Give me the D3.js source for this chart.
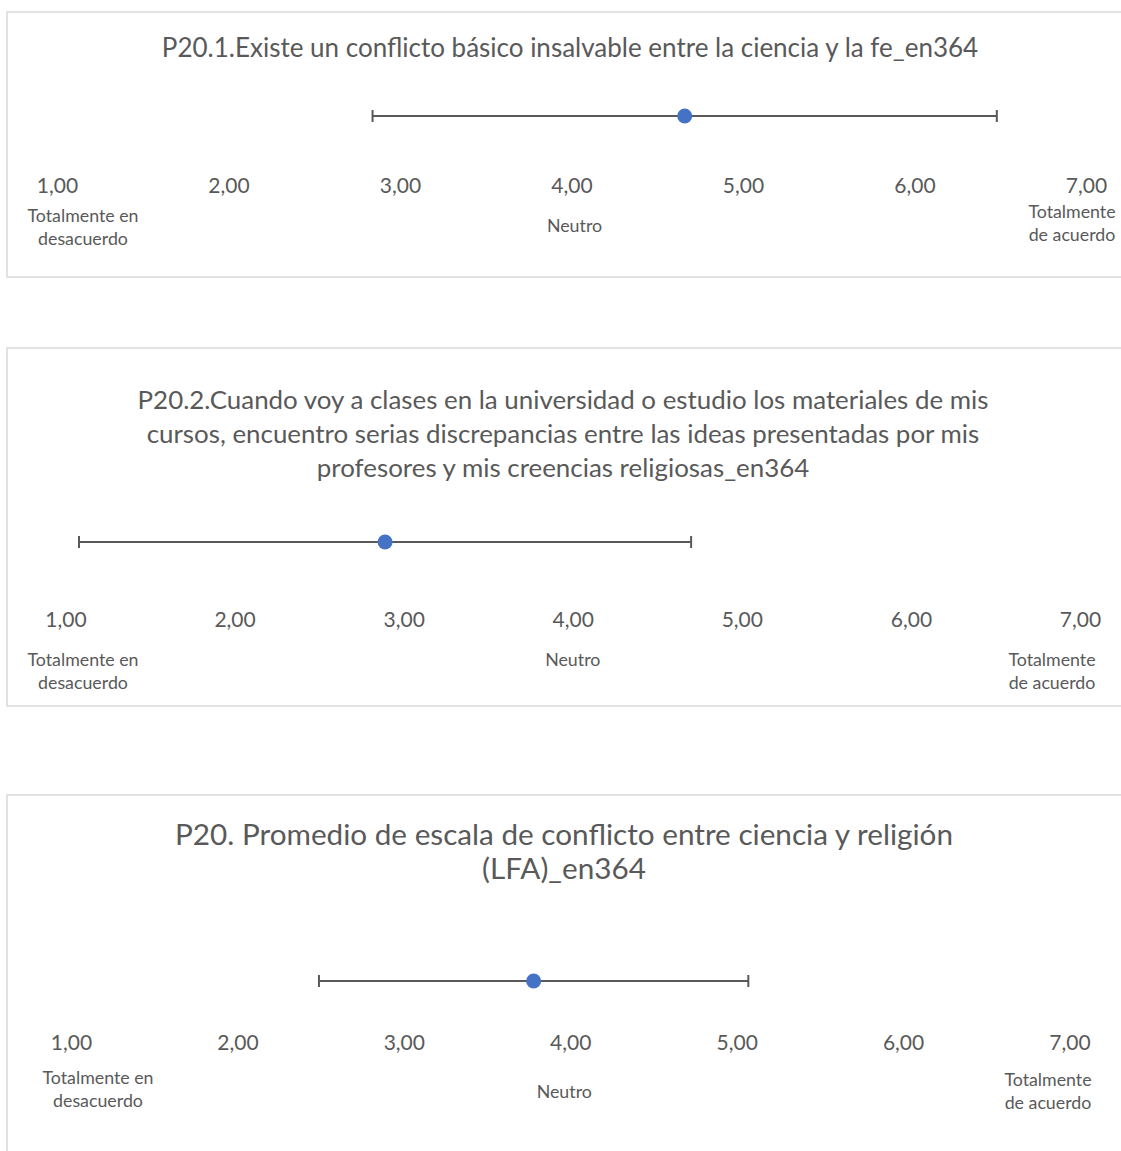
<!DOCTYPE html>
<html>
<head>
<meta charset="utf-8">
<script src="https://cdn.jsdelivr.net/npm/d3@7"></script>
<style>
  body{ margin:0; background:#fff; }
  svg{ display:block; font-family:Lato, 'Open Sans', sans-serif; }
</style>
</head>
<body>
<svg id="chart"></svg>
<script>
// values
const titles = [
  ['P20.1.Existe un conflicto básico insalvable entre la ciencia y la fe_en364'],
  ['P20.2.Cuando voy a clases en la universidad o estudio los materiales de mis',
   'cursos, encuentro serias discrepancias entre las ideas presentadas por mis',
   'profesores y mis creencias religiosas_en364'],
  ['P20. Promedio de escala de conflicto entre ciencia y religión',
   '(LFA)_en364']
];
const means = [4.66, 2.89, 3.78];
const sds = [1.82, 1.81, 1.29];
const tickValues = [1, 2, 3, 4, 5, 6, 7];
const anchorValues = [1, 4, 7];
const anchorLabels = [['Totalmente en', 'desacuerdo'], ['Neutro'], ['Totalmente', 'de acuerdo']];

const esFormat = d3.formatLocale({decimal: ',', thousands: '.', grouping: [3], currency: ['', '€']}).format('.2f');
const textColor = '#595959';

class ErrorBarPanel{

      constructor(config, data){
            this.config = {
                  parent: config.parent,
                  box: config.box,
                  range: config.range,
                  barY: config.barY,
                  titleX: config.titleX,
                  titleY: config.titleY,
                  titleSize: config.titleSize || 26,
                  titleLH: config.titleLH || 30,
                  tickY: config.tickY,
                  labelY: config.labelY,      // [left, neutro, right] first baselines
                  labelShift: config.labelShift || [0, 0, 0]
            }
            this.data = data;
            this.init();
      }

      init(){
            let self = this;
            let c = self.config;

            self.g = c.parent.append('g');

            self.g.append('rect')
                  .attr('x', c.box.x).attr('y', c.box.y)
                  .attr('width', c.box.w).attr('height', c.box.h)
                  .attr('fill', 'none')
                  .attr('stroke', '#d9d9d9')
                  .attr('stroke-width', 1.5);

            self.xscale = d3.scaleLinear()
                  .domain([1, 7])
                  .range(c.range);

            self.xaxis = d3.axisBottom(self.xscale)
                  .tickValues(tickValues)
                  .tickSize(0)
                  .tickPadding(0)
                  .tickFormat(esFormat);
      }

      render(){
            let self = this;
            let c = self.config;
            let d = self.data;

            // title
            self.g.append('text')
                  .attr('text-anchor', 'middle')
                  .attr('fill', textColor)
                  .style('font-size', c.titleSize + 'px')
                  .selectAll('tspan')
                  .data(d.title)
                  .join('tspan')
                  .attr('x', c.titleX)
                  .attr('y', (t, i) => c.titleY + i * c.titleLH)
                  .text(t => t);

            // axis labels
            let ax = self.g.append('g')
                  .attr('transform', `translate(0, ${c.tickY})`)
                  .call(self.xaxis);
            ax.select('.domain').remove();
            ax.selectAll('text')
                  .attr('dy', null)
                  .attr('y', 0)
                  .attr('fill', textColor)
                  .style('font-family', 'Lato, sans-serif')
                  .style('font-size', '21px');

            // scale anchors
            self.g.selectAll('.anchor')
                  .data(anchorValues)
                  .join('text')
                  .attr('class', 'anchor')
                  .attr('text-anchor', 'middle')
                  .attr('fill', textColor)
                  .style('font-size', '17.8px')
                  .each(function(v, i){
                        d3.select(this).selectAll('tspan')
                              .data(anchorLabels[i])
                              .join('tspan')
                              .attr('x', self.xscale(v) + c.labelShift[i])
                              .attr('y', (t, j) => c.labelY[i] + j * 23)
                              .text(t => t);
                  });

            // error bar
            let lo = d.mean - d.sd, hi = d.mean + d.sd;
            let bar = self.g.append('g').attr('stroke', '#595959').attr('stroke-width', 2);
            bar.append('line')
                  .attr('x1', self.xscale(lo)).attr('x2', self.xscale(hi))
                  .attr('y1', c.barY).attr('y2', c.barY);
            bar.selectAll('.cap')
                  .data([lo, hi])
                  .join('line')
                  .attr('class', 'cap')
                  .attr('x1', v => self.xscale(v)).attr('x2', v => self.xscale(v))
                  .attr('y1', c.barY - 6).attr('y2', c.barY + 6);

            self.g.append('circle')
                  .attr('cx', self.xscale(d.mean))
                  .attr('cy', c.barY)
                  .attr('r', 7.5)
                  .attr('fill', '#4472C4');
      }
}

const svg = d3.select('#chart').attr('width', 1121).attr('height', 1151);

const layouts = [
      {box: {x: 7, y: 12, w: 1130, h: 265}, range: [57, 1086], barY: 116,
       titleX: 570, titleY: 57, titleSize: 26, titleLH: 30, tickY: 193,
       labelY: [222, 232, 218], labelShift: [26, 3, -14]},
      {box: {x: 7, y: 348, w: 1130, h: 358}, range: [65.5, 1080], barY: 542,
       titleX: 563, titleY: 409, titleSize: 25.9, titleLH: 34, tickY: 627,
       labelY: [666, 666, 666], labelShift: [17.5, 0, -28]},
      {box: {x: 7, y: 795, w: 1130, h: 400}, range: [71, 1069.5], barY: 981,
       titleX: 564, titleY: 845, titleSize: 29.7, titleLH: 34, tickY: 1050,
       labelY: [1084, 1098, 1086], labelShift: [27, -6, -21.5]}
];

layouts.forEach((l, i) => {
      let panel = new ErrorBarPanel(Object.assign({parent: svg}, l),
            {title: titles[i], mean: means[i], sd: sds[i]});
      panel.render();
});
</script>
</body>
</html>
